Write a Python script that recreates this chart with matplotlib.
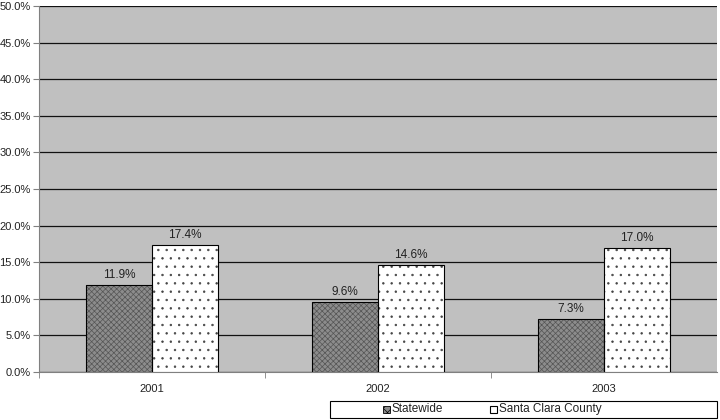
import matplotlib
matplotlib.use("Agg")
import matplotlib.pyplot as plt
import numpy as np
from matplotlib.patches import Rectangle

years = ["2001", "2002", "2003"]
statewide = [11.9, 9.6, 7.3]
santa_clara = [17.4, 14.6, 17.0]
series_names = ["Statewide", "Santa Clara County"]

plt.rcParams['font.family'] = ['Liberation Sans', 'DejaVu Sans']
plt.rcParams['hatch.linewidth'] = 0.5

W, H = 720, 420
fig = plt.figure(figsize=(7.2, 4.2), dpi=100)
ax = fig.add_axes([39/W, 48/H, 678/W, 366/H])
ax.set_facecolor('#C0C0C0')

x = np.arange(len(years))
w = 0.29

ax.bar(x - w/2, statewide, w, color='#8c8c8c', edgecolor='#555555', hatch='xxxxxx', linewidth=0, zorder=3)
ax.bar(x - w/2, statewide, w, color='none', edgecolor='black', linewidth=0.8, zorder=4)
ax.bar(x + w/2, santa_clara, w, color='white', edgecolor='#444444', hatch='..', linewidth=0, zorder=3)
ax.bar(x + w/2, santa_clara, w, color='none', edgecolor='black', linewidth=0.8, zorder=4)

for xi, v in zip(x - w/2, statewide):
    ax.text(xi, v + 0.5, f"{v:.1f}%", ha='center', va='bottom', fontsize=8.5, color='#222222')
for xi, v in zip(x + w/2, santa_clara):
    ax.text(xi, v + 0.5, f"{v:.1f}%", ha='center', va='bottom', fontsize=8.5, color='#222222')

ax.set_xlim(-0.5, 2.5)
ax.set_ylim(0, 50)
yt = np.arange(0, 50.1, 5)
ax.set_yticks(yt)
ax.set_yticklabels([f"{t:.1f}%" for t in yt], fontsize=8, color='#222222')
ax.set_xticks(x)
ax.set_xticklabels(years, fontsize=8, color='#222222')
ax.tick_params(axis='x', length=0, pad=9)
ax.tick_params(axis='y', length=4, direction='out', pad=2, color='#808080')
ax.yaxis.grid(True, color='#111111', linewidth=0.9, zorder=1)
ax.set_axisbelow(True)
for s in ['top', 'right']:
    ax.spines[s].set_visible(False)
ax.spines['left'].set_color('#808080')
ax.spines['bottom'].set_color('#808080')
ax.set_xticks([-0.5, 0.5, 1.5], minor=True)
ax.tick_params(axis='x', which='minor', length=4, direction='out', color='#808080')

# Legend drawn manually
fig.patches.append(Rectangle((330/W, 2/H), 387/W, 17/H, transform=fig.transFigure,
                             facecolor='white', edgecolor='black', linewidth=0.8))
fig.patches.append(Rectangle((383/W, 7.5/H), 7/W, 7/H, transform=fig.transFigure,
                             facecolor='#8c8c8c', edgecolor='black', hatch='xxxx', linewidth=0.6))
fig.patches.append(Rectangle((490/W, 7.5/H), 7/W, 7/H, transform=fig.transFigure,
                             facecolor='white', edgecolor='black', linewidth=0.8))
fig.text(392/W, 11/H, series_names[0], fontsize=8.5, va='center', ha='left', color='#222222')
fig.text(499/W, 11/H, series_names[1], fontsize=8.5, va='center', ha='left', color='#222222')

fig.savefig("out.png", dpi=100)
